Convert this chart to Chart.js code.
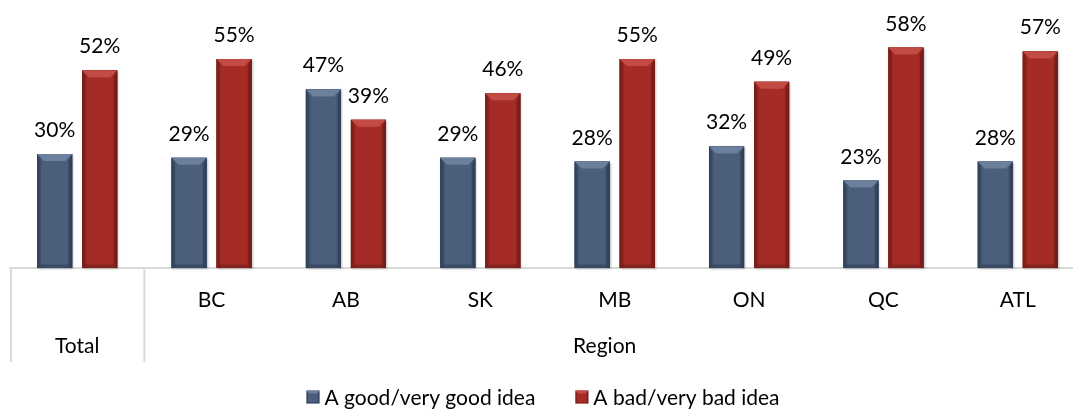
<!DOCTYPE html>
<html>
<head>
<meta charset="utf-8">
<script src="https://cdn.jsdelivr.net/npm/chart.js@4/dist/chart.umd.min.js"></script>
<style>
  html, body { margin: 0; padding: 0; background: #fff; overflow: hidden; }
  .wrap { position: relative; width: 1090px; height: 410px; }
</style>
</head>
<body>
<div class="wrap"><canvas id="ideaChart"></canvas></div>
<script>
const categories = ['Total', 'BC', 'AB', 'SK', 'MB', 'ON', 'QC', 'ATL'];
const goodIdea = [30, 29, 47, 29, 28, 32, 23, 28];
const badIdea = [52, 55, 39, 46, 55, 49, 58, 57];
const seriesNames = ['A good/very good idea', 'A bad/very bad idea'];

const FONT = 'Lato, "Open Sans", sans-serif';
const FONT_SIZE = 21;
const palette = [
    { base: '#4b5f7d', edge: '#34445d', light: '#6c7f9c', dark: '#2c3a50' },
    { base: '#a52c26', edge: '#7c1f1b', light: '#c24b44', dark: '#6a1915' }
];

// draws a bevelled box, used for the bars and the legend keys
function bevelBox(ctx, l, t, r, b, c, bev) {
    const g = ctx.createLinearGradient(l, 0, r, 0);
    g.addColorStop(0, c.edge);
    g.addColorStop(0.15, c.base);
    g.addColorStop(0.85, c.base);
    g.addColorStop(1, c.edge);
    ctx.fillStyle = g;
    ctx.fillRect(l, t, r - l, b - t);

    // top face
    ctx.fillStyle = c.light;
    ctx.beginPath();
    ctx.moveTo(l, t); ctx.lineTo(r, t);
    ctx.lineTo(r - bev, t + bev); ctx.lineTo(l + bev, t + bev);
    ctx.closePath(); ctx.fill();
    // right face
    ctx.fillStyle = c.dark;
    ctx.globalAlpha = 0.55;
    ctx.beginPath();
    ctx.moveTo(r, t); ctx.lineTo(r, b);
    ctx.lineTo(r - bev * 0.5, b - bev * 0.5); ctx.lineTo(r - bev * 0.5, t + bev);
    ctx.closePath(); ctx.fill();
    // left face
    ctx.globalAlpha = 0.35;
    ctx.beginPath();
    ctx.moveTo(l, t); ctx.lineTo(l, b);
    ctx.lineTo(l + bev * 0.5, b - bev * 0.5); ctx.lineTo(l + bev * 0.5, t + bev);
    ctx.closePath(); ctx.fill();
    // bottom face
    ctx.globalAlpha = 0.5;
    ctx.beginPath();
    ctx.moveTo(l, b); ctx.lineTo(r, b);
    ctx.lineTo(r - bev * 0.5, b - bev * 0.5); ctx.lineTo(l + bev * 0.5, b - bev * 0.5);
    ctx.closePath(); ctx.fill();
    ctx.globalAlpha = 1;
}

const decorPlugin = {
    id: 'decor',
    afterDatasetsDraw(chart) {
        const ctx = chart.ctx;
        ctx.save();
        chart.data.datasets.forEach((ds, di) => {
            const meta = chart.getDatasetMeta(di);
            meta.data.forEach((bar, i) => {
                const l = bar.x - bar.width / 2, r = bar.x + bar.width / 2;
                ctx.save();
                ctx.shadowColor = 'rgba(0,0,0,0.25)';
                ctx.shadowOffsetX = 1; ctx.shadowOffsetY = 1; ctx.shadowBlur = 2;
                ctx.fillStyle = palette[di].base;
                ctx.fillRect(l, bar.y, bar.width, bar.base - bar.y);
                ctx.restore();
                bevelBox(ctx, l, bar.y, r, bar.base, palette[di], 7);

                ctx.fillStyle = '#000';
                ctx.font = FONT_SIZE + 'px ' + FONT;
                ctx.textAlign = 'center';
                ctx.textBaseline = 'alphabetic';
                ctx.fillText(ds.data[i] + '%', bar.x, bar.y - 17);
            });
        });
        ctx.restore();
    },
    afterDraw(chart) {
        const ctx = chart.ctx;
        const xs = chart.scales.x;
        const area = chart.chartArea;
        const step = (area.right - area.left) / categories.length;
        const tableBottom = 362;
        ctx.save();
        // table borders around the Total column
        ctx.strokeStyle = '#d9d9d9';
        ctx.lineWidth = 2;
        [area.left + 1, area.left + step].forEach(x => {
            ctx.beginPath();
            ctx.moveTo(x, area.bottom);
            ctx.lineTo(x, tableBottom);
            ctx.stroke();
        });
        // group row
        ctx.fillStyle = '#000';
        ctx.font = FONT_SIZE + 'px ' + FONT;
        ctx.textAlign = 'center';
        ctx.textBaseline = 'middle';
        ctx.fillText('Total', xs.getPixelForValue(0), 346);
        const regionLeft = area.left + step;
        const regionRight = Math.min(area.right, 1073);
        ctx.fillText('Region', (regionLeft + regionRight) / 2 - 4, 346);

        // legend
        ctx.textAlign = 'left';
        const box = 13, gapBox = 5, gapItem = 40;
        const widths = seriesNames.map(n => box + gapBox + ctx.measureText(n).width);
        const total = widths[0] + widths[1] + gapItem;
        let x = 543 - total / 2;
        const cy = 397;
        seriesNames.forEach((n, i) => {
            bevelBox(ctx, x, cy - box / 2, x + box, cy + box / 2, palette[i], 3);
            ctx.fillStyle = '#000';
            ctx.fillText(n, x + box + gapBox, cy + 1);
            x += widths[i] + gapItem;
        });
        ctx.restore();
    }
};

const chart = new Chart(document.getElementById('ideaChart'), {
    type: 'bar',
    data: {
        labels: categories,
        datasets: [
            { label: seriesNames[0], data: goodIdea, backgroundColor: palette[0].base },
            { label: seriesNames[1], data: badIdea, backgroundColor: palette[1].base }
        ]
    },
    options: {
        responsive: true,
        maintainAspectRatio: false,
        animation: false,
        layout: { padding: { left: 10, right: 5, top: 2, bottom: 48 } },
        datasets: {
            bar: { categoryPercentage: 0.67, barPercentage: 0.78 }
        },
        plugins: {
            legend: { display: false },
            tooltip: { enabled: false }
        },
        scales: {
            x: {
                grid: { display: false, drawTicks: false },
                border: { color: '#d9d9d9', width: 2 },
                ticks: {
                    color: '#000',
                    font: { family: FONT, size: FONT_SIZE },
                    padding: 20,
                    maxRotation: 0,
                    autoSkip: false,
                    callback: (v, i) => (i === 0 ? '' : categories[i])
                },
                afterFit(scale) { scale.height = 94; }
            },
            y: {
                display: false,
                min: 0,
                max: 70
            }
        }
    },
    plugins: [decorPlugin]
});
</script>
</body>
</html>
